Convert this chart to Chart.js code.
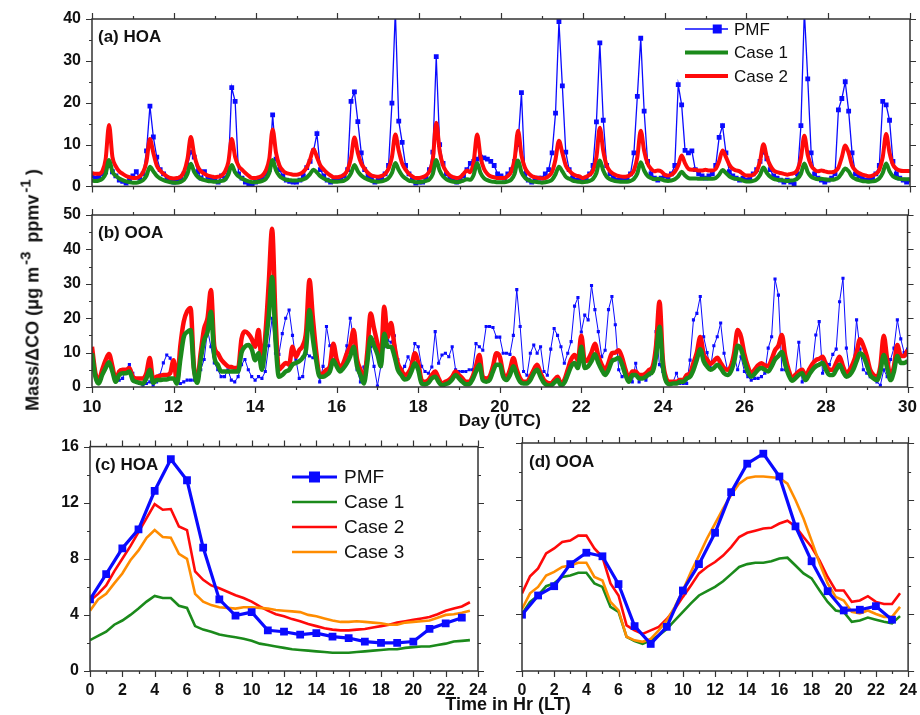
<!DOCTYPE html>
<html>
<head>
<meta charset="utf-8">
<script src="https://cdn.jsdelivr.net/npm/chart.js@4.4.0/dist/chart.umd.min.js"></script>
<style>
  body { margin: 0; background: #fff; }
  #wrap { position: relative; width: 920px; height: 715px; font-family: "Liberation Sans", Arial, sans-serif; color: #111; }
  canvas { position: absolute; }
  .lbl { position: absolute; font-weight: bold; white-space: nowrap; }
  #ytitle { left: 30px; top: 290px; font-size: 18px; transform: translate(-50%, -50%) rotate(-90deg); }
  #ytitle sup { font-size: 15px; vertical-align: 8px; margin: 0 4px 0 2px; }
  #xtitle2 { left: 508px; top: 704px; font-size: 18px; transform: translate(-50%, -50%); }
</style>
</head>
<body>
<div id="wrap">
  <canvas id="cA" width="920" height="200" style="left:0;top:0"></canvas>
  <canvas id="cB" width="920" height="235" style="left:0;top:200px"></canvas>
  <canvas id="cC" width="500" height="282" style="left:0;top:433px"></canvas>
  <canvas id="cD" width="420" height="282" style="left:500px;top:433px"></canvas>
  <div class="lbl" id="ytitle">Mass/&Delta;CO (&mu;g m<sup>-3</sup> ppmv<sup>-1</sup>)</div>
  <div class="lbl" id="xtitle2">Time in Hr (LT)</div>
</div>
<script>
// time series, 2-hourly values starting day 10.0 UTC (one row per day)
const hoaPmf = [
  2.5, 2.0, 2.2, 3.0, 3.5, 5.0, 3.5, 2.5, 1.5, 1.2, 0.8, 1.5,
  2.5, 3.5, 2.0, 3.0, 8.5, 19.2, 11.8, 7.0, 4.0, 3.0, 2.0, 1.5,
  1.0, 1.5, 2.0, 3.0, 5.0, 8.2, 7.0, 3.5, 2.0, 3.5, 2.0, 1.5,
  1.5, 1.0, 2.5, 2.0, 4.0, 23.6, 20.3, 3.0, 2.0, 1.0, 0.6, 0.5,
  1.0, 1.5, 2.0, 3.0, 4.0, 17.1, 6.5, 4.0, 2.5, 1.5, 1.2, 1.0,
  1.0, 1.5, 2.5, 4.5, 6.0, 8.5, 12.6, 4.0, 2.5, 1.5, 1.0, 1.5,
  2.0, 1.5, 2.5, 4.0, 20.3, 22.6, 15.5, 8.0, 4.0, 2.5, 2.0, 1.0,
  1.5, 2.0, 3.0, 5.0, 19.9, 42.0, 15.6, 10.5, 5.0, 3.0, 1.5, 0.8,
  1.0, 1.0, 2.0, 4.0, 8.2, 31.0, 10.0, 5.5, 3.0, 2.0, 1.5, 1.0,
  1.5, 2.5, 4.0, 5.5, 6.0, 6.5, 7.0, 6.8, 6.5, 6.0, 5.0, 3.0,
  2.5, 2.0, 3.0, 4.0, 6.0, 10.0, 22.4, 3.0, 1.5, 1.0, 1.5, 2.0,
  2.0, 3.0, 4.0, 8.0, 17.5, 39.4, 24.0, 8.2, 4.0, 2.0, 1.5, 1.5,
  1.5, 2.0, 3.0, 5.0, 15.4, 34.3, 15.8, 5.0, 3.0, 2.0, 1.5, 1.5,
  1.5, 2.0, 3.0, 8.0, 21.5, 35.4, 18.0, 6.0, 3.0, 2.0, 1.5, 2.0,
  2.5, 2.0, 3.0, 5.0, 24.3, 19.5, 8.6, 8.0, 8.5, 4.0, 3.0, 2.5,
  2.0, 2.5, 3.0, 5.0, 11.7, 14.5, 8.0, 3.5, 2.5, 2.0, 1.5, 2.0,
  1.5, 2.0, 3.0, 4.0, 6.0, 8.2, 6.6, 4.0, 2.5, 2.0, 1.5, 1.0,
  1.5, 1.0, 0.5, 3.0, 14.5, 42.0, 25.7, 8.0, 3.0, 2.0, 1.5, 1.0,
  1.5, 2.0, 3.0, 18.3, 21.0, 25.0, 18.0, 8.0, 3.0, 2.5, 2.0, 1.5,
  1.5, 2.0, 3.0, 5.0, 20.3, 19.5, 15.8, 6.0, 3.0, 2.0, 1.5, 1.0,
  1.5
];
const hoaCase1 = [
  1.4, 1.3, 1.4, 1.8, 3.0, 6.3, 3.5, 2.5, 1.9, 1.5, 1.2, 1.0,
  0.9, 0.9, 1.1, 1.5, 2.6, 4.7, 3.6, 2.5, 1.9, 1.5, 1.2, 1.0,
  0.9, 0.9, 1.1, 1.6, 3.0, 5.4, 3.4, 2.3, 1.8, 1.5, 1.3, 1.2,
  1.1, 1.1, 1.3, 1.6, 2.8, 5.1, 3.3, 2.4, 1.9, 1.5, 1.2, 1.0,
  1.0, 1.1, 1.3, 1.8, 3.2, 6.3, 3.8, 2.5, 1.9, 1.6, 1.5, 1.4,
  1.4, 1.5, 1.7, 2.1, 3.0, 4.0, 3.3, 2.4, 1.9, 1.5, 1.3, 1.1,
  1.1, 1.2, 1.4, 1.9, 3.1, 5.1, 3.6, 2.6, 2.0, 1.6, 1.3, 1.2,
  1.1, 1.2, 1.5, 2.0, 3.2, 5.6, 3.9, 2.6, 1.9, 1.4, 1.2, 1.0,
  1.0, 1.1, 1.3, 1.7, 3.0, 6.3, 3.8, 2.4, 1.7, 1.3, 1.1, 1.0,
  1.1, 1.4, 1.7, 1.6, 2.8, 5.6, 3.2, 2.0, 1.5, 1.2, 1.1, 1.0,
  1.0, 1.0, 1.2, 1.6, 3.0, 6.2, 3.4, 2.1, 1.5, 1.2, 1.1, 1.0,
  0.9, 1.0, 1.2, 1.6, 2.9, 4.7, 3.6, 2.3, 1.8, 1.4, 1.2, 1.1,
  1.0, 1.1, 1.3, 1.8, 3.2, 6.2, 3.8, 2.3, 1.7, 1.4, 1.2, 1.1,
  1.1, 1.1, 1.3, 1.8, 3.1, 5.8, 3.8, 2.5, 2.0, 1.7, 1.8, 1.7,
  1.4, 1.3, 1.4, 1.7, 2.4, 3.5, 2.6, 2.0, 1.9, 1.9, 1.8, 1.8,
  1.9, 1.8, 1.8, 2.0, 2.8, 3.9, 3.2, 2.4, 2.0, 1.8, 1.7, 1.4,
  1.2, 1.2, 1.3, 1.7, 2.7, 4.5, 3.2, 2.3, 1.8, 1.6, 1.5, 1.4,
  1.3, 1.4, 1.5, 1.9, 3.0, 5.5, 3.4, 2.3, 1.9, 1.7, 1.8, 1.7,
  1.6, 1.6, 1.7, 2.1, 3.2, 4.3, 3.6, 2.3, 1.8, 1.5, 1.3, 1.2,
  1.1, 1.2, 1.4, 1.9, 3.2, 5.5, 3.6, 2.4, 2.0, 1.8, 1.7, 1.7,
  1.7
];
const hoaCase2 = [
  3.2, 3.0, 3.0, 3.6, 6.5, 14.7, 7.0, 4.8, 3.6, 3.0, 2.5, 2.2,
  2.0, 2.0, 2.4, 3.4, 6.0, 11.3, 8.0, 5.0, 3.8, 3.0, 2.4, 2.0,
  1.9, 2.0, 2.3, 3.5, 6.5, 11.8, 7.5, 4.8, 3.6, 3.0, 2.6, 2.4,
  2.2, 2.3, 2.6, 3.5, 5.8, 11.3, 7.0, 4.9, 4.0, 3.2, 2.5, 2.0,
  2.0, 2.2, 2.6, 3.8, 6.5, 13.6, 8.0, 5.0, 3.8, 3.2, 3.0, 2.8,
  2.8, 3.0, 3.5, 4.5, 6.5, 8.9, 7.0, 5.0, 4.0, 3.2, 2.6, 2.2,
  2.2, 2.4, 2.8, 4.0, 6.8, 11.7, 8.0, 5.5, 4.2, 3.2, 2.6, 2.4,
  2.3, 2.5, 3.0, 4.2, 7.0, 12.4, 8.5, 5.5, 4.0, 3.0, 2.4, 2.0,
  2.0, 2.2, 2.6, 3.6, 6.5, 15.2, 8.5, 5.0, 3.5, 2.6, 2.2, 2.0,
  2.2, 3.0, 3.8, 3.4, 6.0, 12.4, 7.0, 4.2, 3.0, 2.4, 2.2, 2.0,
  2.0, 2.0, 2.5, 3.5, 6.5, 13.3, 7.5, 4.5, 3.2, 2.5, 2.2, 2.0,
  1.9, 2.0, 2.5, 3.5, 6.5, 10.9, 8.0, 5.0, 3.8, 3.0, 2.6, 2.4,
  2.0, 2.3, 2.8, 3.8, 7.0, 14.0, 8.5, 5.0, 3.6, 3.0, 2.6, 2.4,
  2.3, 2.4, 2.8, 3.8, 7.0, 13.3, 8.5, 5.5, 4.2, 3.6, 3.8, 3.6,
  2.8, 2.6, 2.8, 3.5, 5.0, 7.4, 5.5, 4.2, 4.0, 4.0, 3.8, 3.8,
  4.0, 3.8, 3.8, 4.2, 6.0, 8.6, 7.0, 5.2, 4.2, 3.8, 3.6, 3.0,
  2.6, 2.6, 2.8, 3.6, 6.0, 10.1, 7.0, 5.0, 3.8, 3.4, 3.2, 3.0,
  2.8, 3.0, 3.2, 4.0, 6.8, 12.1, 7.5, 5.0, 4.0, 3.6, 3.8, 3.6,
  3.4, 3.4, 3.6, 4.5, 7.0, 9.8, 8.0, 5.0, 3.8, 3.2, 2.8, 2.6,
  2.4, 2.6, 3.0, 4.0, 7.0, 12.5, 8.0, 5.2, 4.2, 3.8, 3.7, 3.7,
  3.7
];
const ooaPmf = [
  9.0, 4.0, 2.0, 4.0, 6.0, 7.0, 5.0, 3.0, 2.0, 2.5, 5.0, 6.5,
  4.0, 2.0, 1.0, 0.5, 1.0, 1.5, 0.5, 1.5, 3.5, 7.0, 9.3, 8.4,
  6.0, 1.5, 1.0, 1.5, 2.0, 2.0, 2.0, 2.5, 5.0, 8.0, 16.6, 11.7,
  7.0, 5.0, 3.0, 3.0, 5.0, 2.0, 1.5, 3.0, 6.5, 8.0, 5.0, 3.0,
  2.0, 3.0, 2.5, 4.5, 12.0, 20.0, 9.8, 9.5, 15.5, 20.0, 22.4, 15.0,
  8.0, 2.5, 3.0, 9.8, 9.0, 8.5, 8.0, 1.5, 6.0, 17.6, 12.0, 9.8,
  6.0, 5.0, 7.0, 12.0, 20.0, 13.7, 5.0, 1.5, 5.8, 9.8, 11.7, 6.0,
  0.3, 6.0, 11.7, 13.6, 13.0, 14.9, 8.0, 4.0, 6.0, 8.8, 6.8, 12.6,
  11.7, 6.0, 4.5, 4.0, 5.8, 16.1, 6.9, 9.3, 9.8, 8.8, 11.7, 5.0,
  4.5, 4.5, 4.5, 5.0, 5.0, 12.6, 11.7, 10.7, 17.6, 17.6, 17.3, 14.5,
  14.5, 9.8, 9.8, 9.5, 15.0, 28.3, 17.6, 4.5, 3.4, 9.8, 12.2, 9.8,
  11.7, 4.5, 3.4, 11.0, 17.0, 15.0, 11.7, 6.9, 9.8, 13.2, 23.5, 26.0,
  16.0, 20.9, 19.5, 29.5, 22.5, 16.1, 8.8, 10.7, 22.5, 26.3, 18.1, 5.0,
  3.0, 3.5, 3.0, 1.5, 6.9, 1.5, 3.5, 2.0, 3.5, 5.0, 16.1, 6.5,
  4.5, 2.0, 1.0, 1.5, 4.0, 1.0, 1.0, 1.0, 7.8, 19.5, 21.4, 26.3,
  14.6, 10.0, 5.5, 12.0, 14.6, 18.6, 9.8, 5.0, 6.0, 9.0, 5.0, 8.8,
  4.5, 3.0, 2.0, 2.5, 2.5, 3.0, 4.0, 11.3, 14.6, 31.4, 26.7, 5.0,
  5.0, 4.0, 3.0, 3.5, 13.0, 1.5, 4.0, 5.0, 6.0, 15.1, 19.0, 4.0,
  6.9, 6.5, 9.5, 11.0, 24.8, 31.6, 11.3, 4.0, 6.0, 19.5, 11.0, 5.0,
  4.0, 3.0, 2.5, 1.5, 0.5, 5.0, 3.0, 8.0, 11.3, 19.5, 14.0, 10.0,
  11.0
];
const ooaCase1 = [
  9.8, 3.0, 1.0, 3.5, 5.5, 7.2, 4.5, 1.5, 3.5, 4.0, 4.0, 4.5,
  2.0, 1.5, 1.2, 1.0, 2.5, 5.0, 1.2, 2.0, 2.0, 2.2, 2.2, 2.5,
  2.5, 1.0, 8.0, 14.5, 16.0, 16.6, 5.0, 1.2, 8.0, 13.6, 16.0, 21.9,
  8.8, 6.5, 4.5, 4.5, 4.5, 4.5, 4.5, 4.5, 10.0, 11.7, 12.2, 11.0,
  7.8, 9.8, 5.0, 12.0, 20.4, 32.0, 13.6, 3.0, 3.5, 4.5, 5.0, 6.5,
  7.0, 7.5, 8.5, 11.0, 22.4, 14.0, 7.5, 3.0, 3.0, 3.5, 4.5, 7.8,
  6.0, 4.5, 5.5, 6.9, 9.0, 11.7, 6.0, 3.5, 1.0, 7.0, 14.5, 12.0,
  9.5, 6.0, 15.5, 11.7, 11.7, 9.0, 5.0, 3.5, 2.2, 2.5, 4.5, 6.9,
  5.0, 1.0, 0.8, 1.2, 2.5, 3.0, 1.5, 0.5, 0.8, 1.2, 2.2, 3.5,
  2.5, 1.5, 0.8, 0.8, 2.2, 4.5, 6.5, 2.0, 1.5, 2.0, 4.5, 6.5,
  6.5, 3.0, 2.0, 3.5, 6.0, 3.5, 1.5, 1.0, 1.0, 2.0, 4.0, 5.0,
  3.0, 1.2, 0.5, 0.4, 1.2, 2.0, 0.5, 1.2, 3.5, 6.0, 7.0, 5.5,
  11.7, 5.5, 6.0, 7.5, 9.5, 7.0, 5.0, 3.5, 5.0, 7.5, 8.0, 8.5,
  6.5, 3.5, 1.5, 3.5, 3.5, 2.5, 2.5, 3.0, 3.8, 4.5, 9.0, 17.5,
  6.0, 1.5, 0.8, 1.0, 1.0, 1.5, 1.5, 2.5, 3.0, 5.0, 8.0, 11.0,
  7.5, 6.0, 5.0, 5.5, 6.5, 5.5, 4.0, 3.5, 4.5, 7.5, 12.0, 11.0,
  7.5, 4.5, 3.0, 3.8, 5.0, 5.5, 5.0, 4.5, 6.0, 8.0, 9.0, 10.2,
  6.5, 3.5, 1.8, 2.5, 3.5, 4.0, 2.0, 3.5, 5.0, 6.0, 6.5, 7.0,
  5.0, 3.5, 3.5, 5.0, 6.5, 4.5, 3.0, 3.5, 5.0, 7.5, 9.8, 9.0,
  6.5, 3.5, 2.5, 2.0, 4.5, 9.3, 5.5, 2.0, 4.5, 9.0, 7.0, 7.0,
  7.5
];
const ooaCase2 = [
  11.7, 4.0, 2.0, 5.0, 7.8, 9.6, 6.0, 2.0, 4.5, 5.0, 5.0, 5.5,
  3.0, 2.5, 2.5, 2.5, 4.0, 8.4, 2.0, 3.0, 3.2, 3.5, 3.5, 4.0,
  7.8, 1.5, 12.0, 19.0, 22.0, 23.0, 5.8, 2.5, 10.0, 17.0, 20.0, 28.2,
  11.7, 9.8, 8.0, 6.9, 6.0, 5.8, 5.5, 5.5, 14.0, 16.1, 15.5, 14.0,
  11.7, 16.6, 6.9, 15.0, 30.0, 46.0, 20.4, 5.0, 6.0, 7.0, 6.5, 11.7,
  8.8, 10.7, 12.0, 16.0, 31.1, 20.0, 10.0, 3.5, 4.0, 5.0, 6.0, 12.6,
  8.0, 5.8, 7.0, 9.8, 12.0, 16.6, 8.0, 5.0, 2.0, 10.0, 21.4, 17.0,
  12.6, 7.8, 23.3, 14.5, 18.6, 12.0, 6.9, 5.0, 3.5, 4.0, 6.0, 9.8,
  7.0, 2.0, 1.5, 2.0, 3.5, 4.5, 2.5, 1.0, 1.5, 2.0, 3.0, 4.5,
  3.5, 2.5, 1.5, 1.5, 3.0, 6.0, 9.3, 3.0, 2.5, 3.0, 6.0, 9.8,
  8.8, 4.0, 3.0, 5.0, 8.4, 5.0, 2.5, 1.5, 1.5, 3.0, 5.0, 6.5,
  4.0, 2.0, 1.2, 1.0, 2.0, 3.0, 1.0, 2.0, 5.0, 8.0, 9.3, 7.8,
  14.9, 7.5, 8.0, 10.0, 12.6, 9.0, 6.5, 5.0, 7.0, 9.8, 10.0, 10.7,
  8.5, 5.0, 2.5, 4.5, 4.5, 3.5, 3.5, 4.0, 5.0, 6.0, 12.0, 24.8,
  7.8, 2.5, 1.5, 1.5, 1.5, 2.0, 2.0, 3.5, 4.0, 7.0, 10.0, 14.5,
  9.5, 8.0, 6.7, 7.5, 8.5, 7.0, 5.5, 5.0, 6.0, 10.0, 16.6, 14.6,
  9.5, 6.0, 4.0, 5.0, 6.3, 6.9, 6.3, 6.0, 8.0, 10.7, 12.0, 15.1,
  9.0, 5.0, 2.6, 3.5, 4.5, 5.0, 3.0, 5.0, 6.7, 7.8, 8.2, 8.8,
  6.5, 5.0, 5.0, 7.0, 8.8, 6.0, 4.0, 5.0, 7.0, 10.0, 13.9, 12.0,
  9.0, 5.0, 3.5, 3.0, 6.0, 14.9, 8.0, 3.0, 6.0, 12.2, 9.0, 9.0,
  10.7
];

// diurnal means: PMF hourly (0..23 LT), model cases half-hourly (0..23.5 LT)
const hoaPmfDiurnal = [5.1, 6.9, 8.75, 10.1, 12.85, 15.1, 13.6, 8.8, 5.1, 3.95, 4.2, 2.9,
  2.8, 2.6, 2.7, 2.45, 2.35, 2.1, 2.0, 2.0, 2.1, 3.0, 3.4, 3.8];
const hoaCase1Diurnal = [2.2, 2.5, 2.8, 3.3, 3.6, 4.0, 4.45, 4.95, 5.35, 5.2, 5.2, 4.65, 4.5, 3.2, 2.95, 2.8,
  2.6, 2.5, 2.4, 2.3, 2.15, 1.95, 1.85, 1.75, 1.65, 1.55, 1.5, 1.45, 1.4, 1.35, 1.3, 1.3,
  1.3, 1.35, 1.4, 1.45, 1.5, 1.55, 1.55, 1.65, 1.7, 1.75, 1.75, 1.85, 1.95, 2.1, 2.15, 2.2];
const hoaCase2Diurnal = [5.0, 5.5, 6.1, 7.1, 8.0, 8.9, 9.9, 10.9, 11.9, 11.5, 11.55, 10.3, 10.05, 7.1, 6.5, 6.1,
  5.9, 5.65, 5.4, 5.2, 4.95, 4.6, 4.3, 4.05, 3.9, 3.7, 3.55, 3.35, 3.2, 3.05, 2.95, 2.9,
  2.9, 2.95, 3.0, 3.1, 3.2, 3.3, 3.45, 3.55, 3.65, 3.75, 3.85, 4.05, 4.3, 4.45, 4.6, 4.9];
const hoaCase3Diurnal = [4.3, 5.1, 5.5, 6.25, 6.95, 7.9, 8.6, 9.5, 10.05, 9.55, 9.5, 8.35, 8.0, 5.5, 4.95, 4.7,
  4.55, 4.5, 4.45, 4.55, 4.55, 4.5, 4.45, 4.35, 4.3, 4.25, 4.2, 4.0, 3.9, 3.75, 3.6, 3.5,
  3.5, 3.55, 3.5, 3.45, 3.4, 3.3, 3.3, 3.45, 3.5, 3.55, 3.6, 3.8, 4.0, 4.05, 4.15, 4.3];
const ooaPmfDiurnal = [3.95, 5.3, 5.95, 7.5, 8.3, 8.05, 6.1, 3.15, 1.9, 3.1, 5.65, 7.5,
  9.7, 12.55, 14.55, 15.25, 13.65, 10.15, 7.7, 5.6, 4.25, 4.3, 4.55, 3.6];
const ooaCase1Diurnal = [4.0, 4.85, 5.3, 5.95, 6.15, 6.6, 6.7, 6.9, 6.9, 6.15, 5.9, 4.5, 4.15, 2.4, 2.1, 1.9,
  2.15, 2.5, 2.95, 3.55, 4.15, 4.75, 5.3, 5.6, 5.9, 6.3, 6.8, 7.3, 7.5, 7.6, 7.6, 7.7,
  7.9, 7.95, 7.4, 6.85, 6.5, 5.65, 4.85, 4.25, 4.15, 3.45, 3.55, 3.75, 3.6, 3.45, 3.35, 3.85];
const ooaCase2Diurnal = [5.45, 6.65, 7.2, 8.25, 8.6, 9.05, 9.15, 9.5, 9.5, 8.6, 8.0, 6.15, 5.3, 3.2, 2.85, 2.6,
  2.85, 3.1, 3.65, 4.35, 5.2, 6.0, 6.85, 7.3, 7.65, 8.1, 8.7, 9.4, 9.7, 9.85, 10.0, 10.05,
  10.35, 10.55, 10.15, 9.4, 8.7, 7.75, 6.6, 5.65, 5.65, 4.85, 4.95, 5.25, 4.85, 4.7, 4.7, 5.45];
const ooaCase3Diurnal = [4.35, 5.45, 5.9, 6.7, 6.95, 7.3, 7.4, 7.6, 7.6, 6.6, 6.35, 4.85, 4.25, 2.4, 2.15, 2.05,
  2.25, 2.85, 3.55, 4.5, 5.65, 6.95, 8.1, 9.3, 10.35, 11.4, 12.35, 13.15, 13.55, 13.65, 13.65, 13.6,
  13.55, 13.15, 12.0, 10.7, 9.15, 7.55, 6.15, 5.2, 4.95, 4.15, 4.05, 4.25, 4.0, 3.8, 3.8, 4.5];

const seriesNames = ['PMF', 'Case 1', 'Case 2', 'Case 3'];
const BLUE = '#0a0aff', GREEN = '#1b8a1b', RED = '#ff0a0a', ORANGE = '#ff8c00';
const FONT = '"Liberation Sans", Arial, sans-serif';

Chart.defaults.font.family = FONT;
Chart.defaults.color = '#111';

const dayAxis = hoaCase2.map((_, i) => 10 + i / 12);
const halfHours = hoaCase1Diurnal.map((_, i) => i / 2);
const hours = hoaPmfDiurnal.map((_, i) => i);
const pts = (xs, ys) => ys.map((v, i) => ({x: xs[i], y: v}));

// frame, outward ticks on all four sides, panel label and legend
const frame = {
  id: 'frame',
  afterDatasetsDraw(chart, args, o) {
    const {ctx, chartArea: a} = chart;
    const xs = chart.scales.x, ys = chart.scales.y;
    const isMajor = (v, step) => Math.abs(v / step - Math.round(v / step)) < 1e-6;
    ctx.save();
    ctx.strokeStyle = '#333';
    ctx.lineWidth = 1.2;
    ctx.beginPath();
    for (let v = xs.min; v <= xs.max + 1e-6; v += o.xMinor) {
      const p = Math.round(xs.getPixelForValue(v)) + 0.5;
      const len = isMajor(v, o.xMajor) ? 6 : 3;
      ctx.moveTo(p, a.top); ctx.lineTo(p, a.top - len);
      ctx.moveTo(p, a.bottom); ctx.lineTo(p, a.bottom + len);
    }
    for (let v = ys.min; v <= ys.max + 1e-6; v += o.yMinor) {
      const p = Math.round(ys.getPixelForValue(v)) + 0.5;
      const len = isMajor(v, o.yMajor) ? 6 : 3;
      ctx.moveTo(a.left, p); ctx.lineTo(a.left - len, p);
      ctx.moveTo(a.right, p); ctx.lineTo(a.right + len, p);
    }
    ctx.stroke();
    ctx.lineWidth = 1.5;
    ctx.strokeRect(a.left, a.top, a.right - a.left, a.bottom - a.top);

    ctx.fillStyle = '#111';
    ctx.font = 'bold 17px ' + FONT;
    ctx.textBaseline = 'middle';
    ctx.textAlign = 'left';
    ctx.fillText(o.label, a.left + o.labelDx, a.top + o.labelDy);

    const L = o.legend;
    if (L) {
      ctx.font = L.size + 'px ' + FONT;
      chart.data.datasets.forEach((ds, i) => {
        const y = L.y + i * L.dy;
        ctx.strokeStyle = ds.borderColor;
        ctx.lineWidth = L.lw[i];
        ctx.beginPath();
        ctx.moveTo(L.x, y);
        ctx.lineTo(L.x + L.len, y);
        ctx.stroke();
        if (ds.pointRadius > 0) {
          ctx.fillStyle = ds.borderColor;
          ctx.fillRect(L.x + L.len * L.mk - L.box / 2, y - L.box / 2, L.box, L.box);
        }
        ctx.fillStyle = '#111';
        ctx.fillText(ds.label, L.x + L.len + L.gap, y + 1);
      });
    }
    ctx.restore();
  }
};

function yAxis(max, step, width, showLabels) {
  return {
    type: 'linear', min: 0, max: max,
    afterFit: s => { s.width = width; },
    grid: {display: false, drawTicks: true, tickLength: 7},
    border: {display: false},
    ticks: {display: showLabels, stepSize: step, padding: 4, color: '#111',
      font: {size: 16, weight: 'bold'}}
  };
}
function xAxis(min, max, step, height, showLabels, size, title) {
  return {
    type: 'linear', min: min, max: max,
    afterFit: s => { s.height = height; },
    grid: {display: false, drawTicks: true, tickLength: 7},
    border: {display: false},
    ticks: {display: showLabels, stepSize: step, padding: 3, color: '#111', maxRotation: 0,
      font: {size: size, weight: 'bold'}},
    title: title ? {display: true, text: title, color: '#111', padding: {top: 0, bottom: 3},
      font: {size: 17, weight: 'bold'}} : {display: false}
  };
}
function baseOptions(scales, padding, frameOpts) {
  return {
    responsive: false, animation: false, events: [],
    layout: {padding: padding},
    scales: scales,
    plugins: {legend: {display: false}, tooltip: {enabled: false}, frame: frameOpts}
  };
}

// (a) HOA time series
new Chart(document.getElementById('cA'), {
  type: 'line',
  data: {datasets: [
    {label: seriesNames[0], data: pts(dayAxis, hoaPmf), borderColor: BLUE, backgroundColor: BLUE,
      borderWidth: 1.3, pointStyle: 'rect', pointRadius: 3.4, pointBorderWidth: 0, order: 3},
    {label: seriesNames[1], data: pts(dayAxis, hoaCase1), borderColor: GREEN, borderWidth: 4,
      pointRadius: 0, cubicInterpolationMode: 'monotone', order: 1},
    {label: seriesNames[2], data: pts(dayAxis, hoaCase2), borderColor: RED, borderWidth: 4,
      pointRadius: 0, cubicInterpolationMode: 'monotone', order: 2}
  ]},
  options: baseOptions(
    {x: xAxis(10, 30, 2, 10, false, 17), y: yAxis(40, 10, 92, true)},
    {top: 19, right: 10, left: 0, bottom: 0},
    {xMajor: 2, xMinor: 1, yMajor: 10, yMinor: 5, label: '(a) HOA', labelDx: 6, labelDy: 18,
      legend: {x: 685, y: 29, dy: 23.5, len: 43, gap: 6, size: 17, lw: [1.5, 4, 4], mk: 0.75, box: 9}}),
  plugins: [frame]
});

// (b) OOA time series
new Chart(document.getElementById('cB'), {
  type: 'line',
  data: {datasets: [
    {label: seriesNames[0], data: pts(dayAxis, ooaPmf), borderColor: BLUE, backgroundColor: BLUE,
      borderWidth: 1, pointStyle: 'rect', pointRadius: 2.2, pointBorderWidth: 0, order: 3},
    {label: seriesNames[1], data: pts(dayAxis, ooaCase1), borderColor: GREEN, borderWidth: 4.5,
      pointRadius: 0, cubicInterpolationMode: 'monotone', order: 1},
    {label: seriesNames[2], data: pts(dayAxis, ooaCase2), borderColor: RED, borderWidth: 4.5,
      pointRadius: 0, cubicInterpolationMode: 'monotone', order: 2}
  ]},
  options: baseOptions(
    {x: xAxis(10, 30, 2, 48, true, 17, 'Day (UTC)'), y: yAxis(50, 10, 92, true)},
    {top: 15, right: 10, left: 0, bottom: 0},
    {xMajor: 2, xMinor: 1, yMajor: 10, yMinor: 5, label: '(b) OOA', labelDx: 6, labelDy: 18}),
  plugins: [frame]
});

function diurnalSets(pmf, c1, c2, c3) {
  return [
    {label: seriesNames[0], data: pts(hours, pmf), borderColor: BLUE, backgroundColor: BLUE,
      borderWidth: 3.2, pointStyle: 'rect', pointRadius: 5.5, pointBorderWidth: 0, order: 0},
    {label: seriesNames[1], data: pts(halfHours, c1), borderColor: GREEN, borderWidth: 2.6, pointRadius: 0, order: 3},
    {label: seriesNames[2], data: pts(halfHours, c2), borderColor: RED, borderWidth: 2.6, pointRadius: 0, order: 2},
    {label: seriesNames[3], data: pts(halfHours, c3), borderColor: ORANGE, borderWidth: 2.6, pointRadius: 0, order: 1}
  ];
}

// (c) HOA diurnal
new Chart(document.getElementById('cC'), {
  type: 'line',
  data: {datasets: diurnalSets(hoaPmfDiurnal, hoaCase1Diurnal, hoaCase2Diurnal, hoaCase3Diurnal)},
  options: baseOptions(
    {x: xAxis(0, 24, 2, 44, true, 16), y: yAxis(16, 4, 90, true)},
    {top: 10, right: 22, left: 0, bottom: 0},
    {xMajor: 2, xMinor: 1, yMajor: 4, yMinor: 2, label: '(c) HOA', labelDx: 5, labelDy: 19,
      legend: {x: 292, y: 44, dy: 25, len: 45, gap: 7, size: 19, lw: [3.2, 2.6, 2.6, 2.6], mk: 0.5, box: 11}}),
  plugins: [frame]
});

// (d) OOA diurnal
new Chart(document.getElementById('cD'), {
  type: 'line',
  data: {datasets: diurnalSets(ooaPmfDiurnal, ooaCase1Diurnal, ooaCase2Diurnal, ooaCase3Diurnal)},
  options: baseOptions(
    {x: xAxis(0, 24, 2, 44, true, 16), y: yAxis(16, 4, 22, false)},
    {top: 10, right: 10, left: 0, bottom: 0},
    {xMajor: 2, xMinor: 1, yMajor: 4, yMinor: 2, label: '(d) OOA', labelDx: 7, labelDy: 19}),
  plugins: [frame]
});
</script>
</body>
</html>
